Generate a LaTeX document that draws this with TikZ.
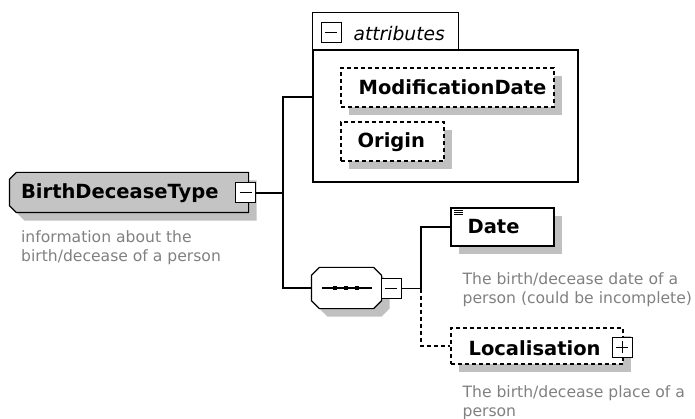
\documentclass[tikz,border=0pt]{standalone}
\usepackage{fontspec}
\setmainfont{DejaVu Sans}
\usetikzlibrary{shadows}
\definecolor{shadowgray}{RGB}{192,192,192}
\definecolor{typegray}{RGB}{196,196,196}
\definecolor{descgray}{RGB}{128,128,128}

\begin{document}
\begin{tikzpicture}[x=1pt, y=-1pt, line width=1.2pt,
  elem/.style={draw, fill=white, rectangle, inner sep=0pt},
  box/.style={inner sep=0pt},
  shade/.style={drop shadow={shadow xshift=8pt, shadow yshift=-8pt, fill=shadowgray, opacity=1}},
  optional/.style={dash pattern=on 4pt off 3pt},
  toggle/.style={draw, fill=white, inner sep=0pt, minimum width=20pt, minimum height=20pt, line width=1pt, solid},
  minus/.style={toggle, path picture={
    \draw ([xshift=4pt]path picture bounding box.west) -- ([xshift=-4pt]path picture bounding box.east);}},
  plus/.style={toggle, path picture={
    \draw ([xshift=4pt]path picture bounding box.west) -- ([xshift=-4pt]path picture bounding box.east);
    \draw ([yshift=-4pt]path picture bounding box.north) -- ([yshift=4pt]path picture bounding box.south);}},
  elemname/.style={font=\bfseries\fontsize{19.5}{19.5}\selectfont, inner sep=0pt, anchor=base west},
  desc/.style={font=\fontsize{15.6}{19}\selectfont, text=descgray, align=left, inner sep=0pt, anchor=north west}
]
\useasboundingbox (0,0) rectangle (695,419);

% complex type
\node[box, minimum width=238pt, minimum height=39pt] (bdt) at (129,192.5) {};
\draw[fill=typegray, shade] ([xshift=7pt]bdt.north west) -- (bdt.north east) -- (bdt.south east)
  -- ([xshift=7pt]bdt.south west) -- ([yshift=7pt]bdt.south west) -- ([yshift=-7pt]bdt.north west) -- cycle;
\node[elemname] (bdtname) at (20.5,199) {BirthDeceaseType};
\node[minus] (bdtminus) at (245.5,193) {};
\node[desc] (bdtdesc) at (20.5,230) {information about the\\birth/decease of a person};

% attributes
\node[draw, fill=white, minimum width=265pt, minimum height=132pt, inner sep=0pt] (attrs) at (445.5,116) {};
\draw (attrs.north west) -- ++(0,-37) -- ++(146,0) -- ++(0,37);
\node[minus] (attrminus) at (331,32.5) {};
\node[font=\itshape\fontsize{18.7}{18.7}\selectfont, inner sep=0pt, anchor=base west] (attrtitle) at (353,41) {attributes};
\node[elem, shade, optional, minimum width=213pt, minimum height=39pt] (moddate) at (447.5,87.5) {};
\node[elemname] (moddatename) at (358,95) {ModificationDate};
\node[elem, shade, optional, minimum width=103pt, minimum height=39pt] (origin) at (392.5,141.5) {};
\node[elemname] (originname) at (357,148) {Origin};

% sequence
\node[box, minimum width=69pt, minimum height=40pt] (seq) at (346.5,288) {};
\draw[fill=white, shade] ([xshift=8pt]seq.north west) -- ([xshift=-8pt]seq.north east) -- ([yshift=-8pt]seq.north east)
  -- ([yshift=8pt]seq.south east) -- ([xshift=-8pt]seq.south east) -- ([xshift=8pt]seq.south west)
  -- ([yshift=8pt]seq.south west) -- ([yshift=-8pt]seq.north west) -- cycle;
\draw ([xshift=-24.5pt]seq.center) -- ([xshift=25.5pt]seq.center);
\foreach \dx in {-11.5,-0.5,10.5}
  \fill ([xshift=\dx pt]seq.center) +(-2.3,-2.3) rectangle +(2.3,2.3);
\node[minus] (seqminus) at (391,288.5) {};

% child elements
\node[elem, shade, minimum width=103pt, minimum height=38pt] (date) at (502.5,227) {};
\node[elemname] (datename) at (467,234) {Date};
\foreach \k in {0,1,2}
  \draw[line width=0.7pt] ([shift={(4,2.5+2.2*\k)}]date.north west) -- +(9,0);
\node[desc] (datedesc) at (462,272) {The birth/decease date of a\\person (could be incomplete)};

\node[elem, shade, optional, minimum width=172pt, minimum height=36pt] (loc) at (537,346) {};
\node[elemname] (locname) at (468,355) {Localisation};
\node[plus] (locplus) at (622,347) {};
\node[desc] (locdesc) at (462,385) {The birth/decease place of a\\person};

% connectors
\coordinate (trunk) at (283,193);
\coordinate (attrsin) at (attrs.west |- 0,97);
\coordinate (branch) at (421,288.5);
\draw (bdtminus) -- (trunk);
\draw (attrsin) -| (trunk) |- (seq.west);
\draw (seqminus) -- (branch);
\draw (branch) |- (date.west);
\draw[optional] (branch) |- (loc.west);

\end{tikzpicture}
\end{document}
